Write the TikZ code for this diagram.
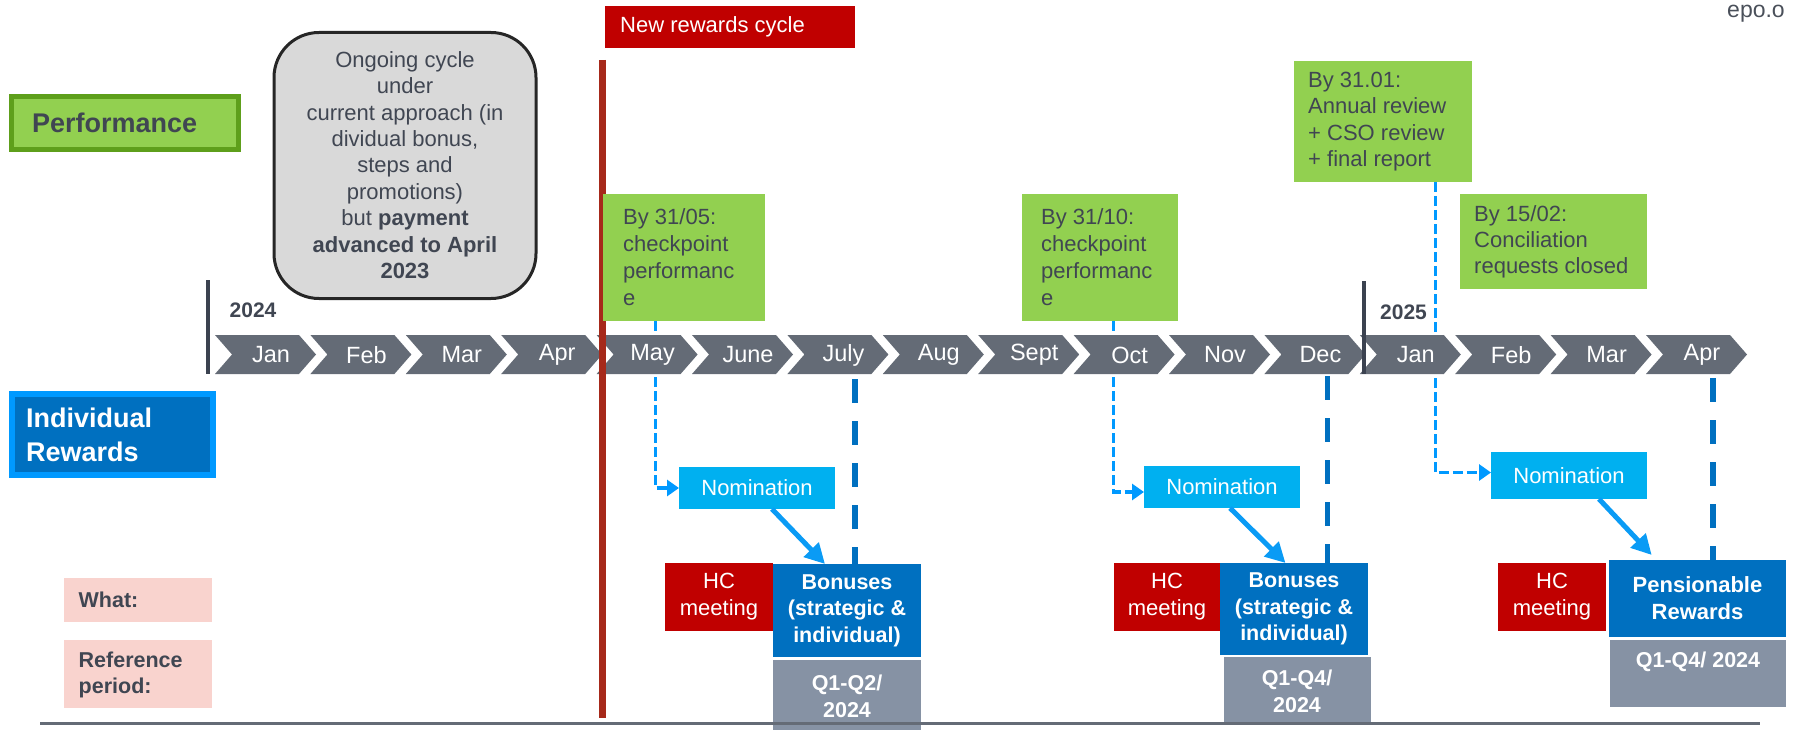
\documentclass[tikz,border=0pt]{standalone}
\usepackage{fontspec}
\setmainfont{Liberation Sans}
\usetikzlibrary{arrows.meta}
\definecolor{gfill}{HTML}{92D050}
\definecolor{gborder}{HTML}{5E9F1B}
\definecolor{txtgray}{HTML}{404652}
\definecolor{chevgray}{HTML}{646B76}
\definecolor{pergray}{HTML}{8692A4}
\definecolor{pinkbox}{HTML}{F9D3CE}
\definecolor{nomblue}{HTML}{00B0F0}
\definecolor{arrblue}{HTML}{0A9BF5}
\definecolor{darkblue}{HTML}{0070C0}
\definecolor{brightblue}{HTML}{0099FF}
\definecolor{hcred}{HTML}{C00000}
\definecolor{redline}{HTML}{A6291A}
\definecolor{yearbar}{HTML}{3B4250}
\definecolor{boxgray}{HTML}{D9D9D9}
\definecolor{epogray}{HTML}{4A505A}
\newcommand\fsz[2]{\fontsize{#1}{#2}\selectfont}
\pgfdeclarelayer{bglayer}
\pgfsetlayers{bglayer,main}
\begin{document}
\begin{tikzpicture}[x=1pt,y=-1pt,
  sz/.style 2 args={minimum width=#1pt,minimum height=#2pt},
  nw/.style={anchor=north west,inner sep=0pt,outer sep=0pt},
  gbox/.style={nw,fill=gfill},
  gtext/.style={anchor=west,inner sep=0pt,align=left,text=txtgray,font=\fsz{22}{27}},
  monthlbl/.style={inner sep=0pt,text=white,font=\fsz{23.5}{28}},
  yearlbl/.style={anchor=west,inner sep=0pt,text=txtgray,font=\fsz{21}{25}\bfseries},
  nombox/.style={nw,fill=nomblue,text=white,font=\fsz{22}{27}},
  hcbox/.style={nw,fill=hcred,text=white,align=center,font=\fsz{22}{27}},
  bonbox/.style={nw,fill=darkblue,text=white,align=center,font=\fsz{21.5}{26.5}\bfseries},
  perbox/.style={nw,fill=pergray,text=white,align=center,font=\fsz{21.5}{27}\bfseries},
  pinkb/.style={nw,fill=pinkbox},
  pinktext/.style={anchor=west,inner sep=0pt,align=left,text=txtgray,font=\fsz{21.5}{26}\bfseries},
  lbarrow/.style={draw=brightblue,line width=3.5pt,dash pattern=on 10pt off 4pt,-{Triangle[length=12pt,width=16pt]}},
  diagarr/.style={draw=arrblue,line width=5pt,-{Triangle[length=20pt,width=20pt]}},
  dbdash/.style={draw=darkblue,line width=5.5pt,dash pattern=on 24pt off 18pt}
]
\useasboundingbox (0,0) rectangle (1793,730);
\clip (0,0) rectangle (1793,730);

% chevrons
\foreach \m [count=\i from 0] in {Jan,Feb,Mar,Apr,May,June,July,Aug,Sept,Oct,Nov,Dec,Jan,Feb,Mar,Apr}{
  \pgfmathsetmacro{\xx}{215+95.4*\i}
  \fill[chevgray] (\xx,335) -- ++(84,0) -- ++(17,19.5) -- ++(-17,19.5) -- ++(-84,0) -- ++(17,-19.5) -- cycle;
  \node[monthlbl] (m\i) at (\xx+56,355) {\m};
}

% year bars
\draw[yearbar,line width=4pt] (208,280) -- (208,374);
\draw[yearbar,line width=4pt] (1364,281) -- (1364,374);
\node[yearlbl] (y24) at (229.5,310) {2024};
\node[yearlbl] (y25) at (1380,312) {2025};

% red line
\draw[redline,line width=7pt] (602,60) -- (602,718);

% left labels
\node[nw,draw=gborder,line width=5pt,fill=gfill,sz={227}{53}] (perf) at (11.5,96.5) {};
\node[anchor=west,inner sep=0pt,text=txtgray,font=\fsz{27}{32}\bfseries] (perft) at (32,123) {Performance};
\node[nw,draw=brightblue,line width=6pt,fill=darkblue,sz={201}{81}] (ir) at (12,394) {};
\node[anchor=west,inner sep=0pt,align=left,text=white,font=\fsz{27}{34}\bfseries] (irt) at (26,435) {Individual\\Rewards};

% gray ongoing box
\node[nw,draw=black!85,line width=3pt,fill=boxgray,rounded corners=45pt,sz={262}{266}] (ongo) at (274,32.5) {};
\node[inner sep=0pt,align=center,text=txtgray,font=\fsz{22}{26.4}] (ongot) at (405,165)
  {Ongoing cycle\\under\\current approach (in\\dividual bonus,\\steps and\\promotions)\\but \textbf{payment}\\\textbf{advanced to April}\\\textbf{2023}};

% new rewards cycle
\node[nw,fill=hcred,sz={250}{42}] (nrc) at (605,6) {};
\node[anchor=west,inner sep=0pt,text=white,font=\fsz{22}{27}] (nrct) at (620,27) {New rewards cycle};

% epo
\node[anchor=base west,inner sep=0pt,text=epogray,font=\fsz{23}{27}] (epo) at (1727,18) {epo.o};

% green boxes
\node[gbox,sz={162}{127}] (g1) at (603,194) {};
\node[gtext] (g1t) at (623,257.5) {By 31/05:\\checkpoint\\performanc\\e};
\node[gbox,sz={156}{127}] (g2) at (1022,194) {};
\node[gtext] (g2t) at (1041,257.5) {By 31/10:\\checkpoint\\performanc\\e};
\node[gbox,sz={178}{121}] (g3) at (1294,61) {};
\node[gtext,font=\fsz{22}{26.3}] (g3t) at (1308,121.5) {By 31.01:\\Annual review\\+ CSO review\\+ final report};
\node[gbox,sz={187}{95}] (g4) at (1460,194) {};
\node[gtext,font=\fsz{22}{26}] (g4t) at (1474,242) {By 15/02:\\Conciliation\\requests closed};

% nominations
\node[nombox,sz={156}{42}] (nom1) at (679,467) {Nomination};
\node[nombox,sz={156}{42}] (nom2) at (1144,466) {Nomination};
\node[nombox,sz={156}{47}] (nom3) at (1491,452) {Nomination};

% HC meetings
\node[hcbox,sz={108}{68}] (hc1) at (665,563) {HC\\meeting};
\node[hcbox,sz={106}{68}] (hc2) at (1114,563) {HC\\meeting};
\node[hcbox,sz={108}{68}] (hc3) at (1498,563) {HC\\meeting};

% bonuses
\node[bonbox,sz={148}{93}] (b1) at (773,564) {Bonuses\\(strategic \&\\individual)};
\node[bonbox,sz={148}{92}] (b2) at (1220,563) {Bonuses\\(strategic \&\\individual)};
\node[bonbox,font=\fsz{22}{27}\bfseries,sz={177}{77}] (pr) at (1609,560) {Pensionable\\Rewards};

% periods
\node[perbox,sz={148}{73}] (p1) at (773,660) {Q1-Q2/\\2024};
\node[perbox,sz={147}{68}] (p2) at (1223.5,657) {Q1-Q4/\\2024};
\node[nw,fill=pergray,sz={176}{67}] (p3) at (1610,640) {};
\node[inner sep=0pt,text=white,font=\fsz{21.5}{27}\bfseries] (p3t) at ([yshift=-22pt]p3.north) {Q1-Q4/ 2024};

% pink labels
\node[pinkb,sz={148}{44}] (what) at (64,578) {};
\node[pinktext] (whatt) at (78.5,600) {What:};
\node[pinkb,sz={148}{68}] (ref) at (64,640) {};
\node[pinktext] (reft) at (78.5,675) {Reference\\period:};

% light blue dashed connectors (behind chevrons)
\begin{pgfonlayer}{bglayer}
\draw[lbarrow] ([xshift=52.5pt]g1.south west) |- (nom1.west);
\draw[lbarrow] ([xshift=91.6pt]g2.south west) |- ([yshift=-5pt]nom2.west);
\draw[lbarrow] ([xshift=141.3pt]g3.south west) |- ([yshift=3pt]nom3.west);
\end{pgfonlayer}

% diagonal arrows
\draw[diagarr] ([xshift=93pt]nom1.south west) -- ([xshift=52pt]b1.north west);
\draw[diagarr] ([xshift=86pt]nom2.south west) -- ([xshift=65.5pt]b2.north west);
\draw[diagarr] ([xshift=108pt]nom3.south west) -- ([xshift=42.7pt,yshift=5pt]pr.north west);

% dark blue dashed verticals
\coordinate (dt1) at (855,379);
\coordinate (dt2) at (1327.7,376);
\coordinate (dt3) at (1713,378);
\draw[dbdash] (dt1) -- (dt1 |- b1.north);
\draw[dbdash] (dt2) -- (dt2 |- b2.north);
\draw[dbdash] (dt3) -- (dt3 |- pr.north);

% bottom line
\draw[chevgray,line width=3pt] (40,723) -- (1760,723);
\end{tikzpicture}
\end{document}
